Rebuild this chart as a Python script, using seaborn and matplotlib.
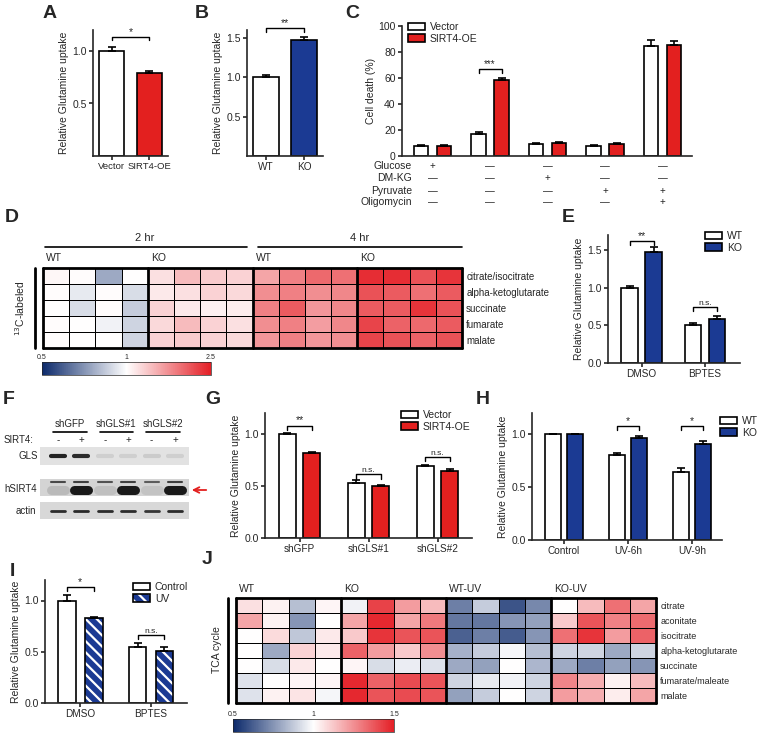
import numpy as np
import pandas as pd
import seaborn as sns
import matplotlib.pyplot as plt
import matplotlib.transforms as mtransforms
from matplotlib.patches import Patch, Rectangle
from matplotlib.colors import LinearSegmentedColormap, TwoSlopeNorm, Normalize
from matplotlib.ticker import FormatStrFormatter

# ---------------- data ----------------
# A
a_cats = ['Vector', 'SIRT4-OE']
a_vals = [1.0, 0.79]
a_errs = [0.04, 0.015]
# B
b_cats = ['WT', 'KO']
b_vals = [1.0, 1.47]
b_errs = [0.03, 0.04]
# C
c_groups = ['Vector', 'SIRT4-OE']
c_cats = ['c1', 'c2', 'c3', 'c4', 'c5']
c_vector = [8.0, 17.0, 9.5, 8.0, 85.0]
c_sirt4 = [7.5, 58.5, 10.0, 9.5, 85.5]
c_vector_err = [0.5, 1.2, 0.6, 0.4, 4.0]
c_sirt4_err = [1.0, 1.2, 1.0, 0.8, 3.0]
c_rows = ['Glucose', 'DM-KG', 'Pyruvate', 'Oligomycin']
c_signs = [['+', '—', '—', '—', '—'],
           ['—', '—', '+', '—', '—'],
           ['—', '—', '—', '+', '+'],
           ['—', '—', '—', '—', '+']]
# D
d_rows = ['citrate/isocitrate', 'alpha-ketoglutarate', 'succinate', 'fumarate', 'malate']
d_wt_2hr = [[1.05, 1.02, 0.80, 1.00],
            [1.02, 0.95, 1.02, 0.92],
            [1.00, 0.92, 1.02, 0.88],
            [1.02, 1.00, 0.97, 0.90],
            [1.02, 1.00, 1.00, 0.90]]
d_ko_2hr = [[1.20, 1.45, 1.35, 1.30],
            [1.15, 1.20, 1.30, 1.25],
            [1.30, 1.15, 1.10, 1.12],
            [1.25, 1.45, 1.30, 1.20],
            [1.30, 1.35, 1.30, 1.25]]
d_wt_4hr = [[1.60, 1.85, 2.00, 1.95],
            [1.75, 1.85, 1.75, 1.80],
            [1.85, 2.10, 1.70, 1.80],
            [1.75, 1.85, 1.65, 1.80],
            [1.70, 1.85, 1.70, 1.75]]
d_ko_4hr = [[2.40, 2.40, 2.15, 2.35],
            [2.15, 2.10, 1.95, 2.10],
            [2.10, 2.10, 2.35, 2.15],
            [2.25, 2.05, 2.00, 2.10],
            [2.25, 2.15, 2.05, 2.15]]
d_groups = ['WT', 'KO', 'WT', 'KO']
# E
e_cats = ['DMSO', 'BPTES']
e_wt = [1.0, 0.51]
e_ko = [1.47, 0.59]
e_wt_err = [0.02, 0.02]
e_ko_err = [0.07, 0.04]
# F (band intensities per lane)
f_headers = ['shGFP', 'shGLS#1', 'shGLS#2']
f_sirt4 = ['-', '+', '-', '+', '-', '+']
gls_band = [0.95, 0.9, 0.04, 0.04, 0.06, 0.04]
sirt4_upper = [0.75, 0.8, 0.7, 0.8, 0.65, 0.8]
sirt4_band = [0.15, 1.0, 0.12, 1.0, 0.1, 1.0]
actin_band = [0.9, 0.92, 0.9, 0.9, 0.85, 0.9]
# G
g_cats = ['shGFP', 'shGLS#1', 'shGLS#2']
g_vector = [1.0, 0.53, 0.69]
g_sirt4 = [0.815, 0.50, 0.64]
g_vector_err = [0.01, 0.03, 0.008]
g_sirt4_err = [0.012, 0.005, 0.02]
# H
h_cats = ['Control', 'UV-6h', 'UV-9h']
h_wt = [1.0, 0.80, 0.64]
h_ko = [1.0, 0.96, 0.91]
h_wt_err = [0.005, 0.025, 0.045]
h_ko_err = [0.005, 0.02, 0.03]
# I
i_cats = ['DMSO', 'BPTES']
i_ctrl = [1.0, 0.55]
i_uv = [0.83, 0.51]
i_ctrl_err = [0.05, 0.04]
i_uv_err = [0.008, 0.04]
# J
j_rows = ['citrate', 'aconitate', 'isocitrate', 'alpha-ketoglutarate', 'succinate',
          'fumarate/maleate', 'malate']
j_wt = [[1.07, 1.03, 0.85, 1.02],
        [1.20, 1.03, 0.75, 1.00],
        [1.00, 1.08, 0.87, 1.05],
        [1.00, 0.80, 1.10, 1.05],
        [1.00, 0.92, 1.05, 1.00],
        [0.93, 1.00, 1.02, 1.02],
        [0.93, 1.03, 1.06, 0.98]]
j_ko = [[0.97, 1.42, 1.22, 1.15],
        [1.20, 1.48, 1.20, 1.30],
        [1.12, 1.45, 1.38, 1.38],
        [1.35, 1.22, 1.12, 1.25],
        [1.02, 0.92, 0.96, 0.93],
        [1.48, 1.35, 1.40, 1.38],
        [1.48, 1.38, 1.40, 1.38]]
j_wt_uv = [[0.70, 0.88, 0.60, 0.72],
           [0.68, 0.68, 0.75, 0.78],
           [0.63, 0.70, 0.62, 0.75],
           [0.82, 0.88, 0.98, 0.85],
           [0.80, 0.78, 1.00, 0.83],
           [0.90, 0.95, 0.97, 0.90],
           [0.78, 0.88, 1.00, 0.90]]
j_ko_uv = [[1.00, 1.15, 1.32, 1.20],
           [1.12, 1.38, 1.28, 1.33],
           [1.32, 1.45, 1.22, 1.35],
           [0.90, 0.90, 0.80, 0.90],
           [0.80, 0.70, 0.78, 0.75],
           [1.27, 1.18, 1.03, 1.15],
           [1.22, 1.18, 1.04, 1.20]]
j_groups = ['WT', 'KO', 'WT-UV', 'KO-UV']

# ---------------- style ----------------
sns.set_style('ticks')
plt.rcParams['font.family'] = ['Liberation Sans', 'DejaVu Sans']
plt.rcParams['hatch.linewidth'] = 1.6
plt.rcParams['axes.linewidth'] = 1.2

RED = '#e3201f'
BLUE = '#1b3a93'
heat_cmap = LinearSegmentedColormap.from_list('bwr_pub', ['#0c2a6b', '#ffffff', '#e41f26'])

W, H = 764, 736
fig = plt.figure(figsize=(W / 100, H / 100), dpi=100)


def box(l, t, r, b):
    return [l / W, 1 - b / H, (r - l) / W, (b - t) / H]


def fx(x):
    return x / W


def fy(y):
    return 1 - y / H


def letter(x, y, s):
    fig.text(fx(x), fy(y), s, fontsize=14, fontweight='bold', ha='center', va='center')


def style(ax, ylim, yticks, fmt='%.1f'):
    ax.set_ylim(*ylim)
    ax.set_yticks(yticks)
    ax.yaxis.set_major_formatter(FormatStrFormatter(fmt))
    sns.despine(ax=ax)
    ax.tick_params(direction='out', length=3, width=1.2, labelsize=7.5, pad=1.5)
    ax.tick_params(axis='x', labelsize=7.2)
    ax.set_xlabel('')


def add_errors(ax, bars, errs):
    xs = np.array([p.get_x() + p.get_width() / 2 for p in bars])
    hs = np.array([p.get_height() for p in bars])
    ax.errorbar(xs, hs, yerr=[np.zeros(len(hs)), np.asarray(errs)], fmt='none',
                ecolor='black', elinewidth=1.2, capsize=3, capthick=1.2)
    return xs


def simple_bars(ax, cats, vals, errs, colors):
    sns.barplot(x=cats, y=vals, hue=cats, palette=colors, width=0.66, errorbar=None,
                saturation=1, edgecolor='black', linewidth=1.2, legend=False, ax=ax)
    return add_errors(ax, ax.patches[:len(cats)], errs)


def grouped_bars(ax, cats, groups, values, errors, colors, width, gap):
    df = pd.DataFrame({'cat': np.tile(cats, len(groups)),
                       'grp': np.repeat(groups, len(cats)),
                       'val': np.concatenate(values)})
    sns.barplot(data=df, x='cat', y='val', hue='grp', order=cats, hue_order=groups,
                palette=dict(zip(groups, colors)), width=width, gap=gap, errorbar=None,
                saturation=1, edgecolor='black', linewidth=1.2, legend=False, ax=ax)
    bars = ax.patches[:len(df)]
    xs = add_errors(ax, bars, np.concatenate(errors))
    return xs.reshape(len(groups), len(cats)), bars


def bracket(ax, x1, x2, y, h, text, size=7.5):
    ax.plot([x1, x1, x2, x2], [y - h, y, y, y - h], color='black', lw=1, clip_on=False)
    ax.text((x1 + x2) / 2, y, text, ha='center', va='bottom', fontsize=size)


def legend(ax, handles, labels, x, y):
    ax.legend(handles, labels, loc='upper left', bbox_to_anchor=(fx(x), fy(y)),
              bbox_transform=fig.transFigure, frameon=False, fontsize=7.5,
              handlelength=1.6, handleheight=0.75, labelspacing=0.15,
              handletextpad=0.5, borderpad=0, borderaxespad=0)


def patch(c):
    return Patch(facecolor=c, edgecolor='black', lw=1.2)


# ---------------- A ----------------
axA = fig.add_axes(box(93, 30, 168, 156))
xa = simple_bars(axA, a_cats, a_vals, a_errs, ['white', RED])
style(axA, (0, 1.2), [0, 0.5, 1.0])
axA.set_yticks([0.5, 1.0])
axA.tick_params(axis='x', labelsize=6.8)
axA.set_xlim(-0.5, 1.5)
axA.set_ylabel('Relative Glutamine uptake', fontsize=7.5, labelpad=2)
bracket(axA, xa[0], xa[1], 1.13, 0.03, '*')
letter(50, 13, 'A')

# ---------------- B ----------------
axB = fig.add_axes(box(247, 30, 323, 156))
xb = simple_bars(axB, b_cats, b_vals, b_errs, ['white', BLUE])
style(axB, (0, 1.6), [0, 0.5, 1.0, 1.5])
axB.set_yticks([0.5, 1.0, 1.5])
axB.set_xlim(-0.5, 1.5)
axB.set_ylabel('Relative Glutamine uptake', fontsize=7.5, labelpad=2)
bracket(axB, xb[0], xb[1], 1.63, 0.05, '**')
letter(202, 13, 'B')

# ---------------- C ----------------
axC = fig.add_axes(box(402, 26, 692, 156))
xc, _ = grouped_bars(axC, c_cats, c_groups, [c_vector, c_sirt4], [c_vector_err, c_sirt4_err],
                     ['white', RED], 0.8, 0.375)
style(axC, (0, 100), [0, 20, 40, 60, 80, 100], '%d')
axC.set_xticks([])
axC.set_xlim(-0.53, 4.51)
axC.set_ylabel('Cell death (%)', fontsize=7.5, labelpad=2)
bracket(axC, xc[0][1], xc[1][1], 67, 3, '***', 7)
legend(axC, [patch('white'), patch(RED)], c_groups, 408, 22)
tf_c = mtransforms.blended_transform_factory(axC.transData, fig.transFigure)
for row, ypx, signs in zip(c_rows, [166, 178, 191, 202], c_signs):
    fig.text(fx(412), fy(ypx), row, ha='right', va='center', fontsize=7.5)
    for i, s in enumerate(signs):
        axC.text(i, fy(ypx), s, transform=tf_c, ha='center', va='center', fontsize=7)
letter(352, 13, 'C')

# ---------------- heatmap helper ----------------
def heat(ax, cax, blocks, rows, norm, ticks, ticklabels, groups, row_size, lab_dy):
    data = np.hstack([np.array(b) for b in blocks])
    df = pd.DataFrame(data, index=rows)
    sns.heatmap(df, ax=ax, cmap=heat_cmap, norm=norm, cbar=False, linewidths=0.7,
                linecolor='black', xticklabels=False, yticklabels=rows)
    ax.yaxis.tick_right()
    ax.tick_params(axis='y', length=0, rotation=0, labelsize=row_size, pad=3)
    n = data.shape[0]
    for x in [0, 4, 8, 12, 16]:
        ax.axvline(x, color='black', lw=2, clip_on=False)
    ax.axhline(0, color='black', lw=2, clip_on=False)
    ax.axhline(n, color='black', lw=2, clip_on=False)
    for k, g in enumerate(groups):
        ax.text(4 * k + 0.12, lab_dy, g, ha='left', va='bottom', fontsize=7.5)
    ax.plot([-0.3, -0.3], [0, n], color='black', lw=2, clip_on=False)
    cb = fig.colorbar(ax.collections[0], cax=cax, orientation='horizontal', ticks=ticks)
    cb.ax.xaxis.set_ticks_position('top')
    cb.ax.tick_params(length=0, labelsize=5, pad=1)
    cb.set_ticklabels(ticklabels)
    cb.outline.set_linewidth(0.5)


# ---------------- D ----------------
axD = fig.add_axes(box(43, 268, 462, 348))
caxD = fig.add_axes(box(42, 362, 211, 375))
heat(axD, caxD, [d_wt_2hr, d_ko_2hr, d_wt_4hr, d_ko_4hr], d_rows,
     TwoSlopeNorm(vmin=0.5, vcenter=1.0, vmax=2.5), [0.5, 1.0, 2.5], ['0.5', '1', '2.5'],
     d_groups, 7, -0.3)
axD.plot([0.08, 7.8], [-1.31, -1.31], color='black', lw=1.2, clip_on=False)
axD.plot([8.2, 16], [-1.31, -1.31], color='black', lw=1.2, clip_on=False)
axD.text(3.9, -1.85, '2 hr', ha='center', va='center', fontsize=8)
axD.text(12.1, -1.85, '4 hr', ha='center', va='center', fontsize=8)
fig.text(fx(20), fy(308), r'$^{13}$C-labeled', rotation=90, ha='center', va='center', fontsize=7.5)
letter(12, 218, 'D')

# ---------------- E ----------------
axE = fig.add_axes(box(608, 235, 740, 363))
xe, _ = grouped_bars(axE, e_cats, ['WT', 'KO'], [e_wt, e_ko], [e_wt_err, e_ko_err],
                     ['white', BLUE], 0.76, 0.32)
style(axE, (0, 1.7), [0, 0.5, 1.0, 1.5])
axE.set_xlim(-0.53, 1.55)
axE.set_ylabel('Relative Glutamine uptake', fontsize=7.5, labelpad=2)
bracket(axE, xe[0][0], xe[1][0], 1.62, 0.05, '**')
bracket(axE, xe[0][1], xe[1][1], 0.74, 0.05, 'n.s.', 6)
legend(axE, [patch('white'), patch(BLUE)], ['WT', 'KO'], 705, 231)
letter(568, 218, 'E')

# ---------------- F ----------------
def blot(ax, bg, bands):
    ax.set_facecolor(bg)
    for band, y, lw in bands:
        for lane, v in enumerate(band):
            g = 0.84 - 0.74 * v
            ax.plot([lane - 0.3, lane + 0.3], [y, y], color=str(g), lw=lw,
                    solid_capstyle='round')
    ax.set_xlim(-0.77, 5.6)
    ax.set_ylim(0, 1)
    ax.set_xticks([])
    ax.set_yticks([])
    for s in ax.spines.values():
        s.set_visible(False)


axF1 = fig.add_axes(box(40, 447, 189, 465))
axF2 = fig.add_axes(box(40, 479, 189, 496))
axF3 = fig.add_axes(box(40, 502, 189, 519))
blot(axF1, '#e2e2e2', [(gls_band, 0.5, 3.0)])
blot(axF2, '#d4d4d4', [(sirt4_upper, 0.85, 1.5), (sirt4_band, 0.38, 6.5)])
blot(axF3, '#d8d8d8', [(actin_band, 0.5, 2.0)])
tf_f = mtransforms.blended_transform_factory(axF1.transData, fig.transFigure)
for c, name in zip([0.5, 2.5, 4.5], f_headers):
    axF1.text(c, fy(424), name, transform=tf_f, ha='center', va='center', fontsize=7)
    axF1.plot([c - 0.72, c + 0.72], [fy(432), fy(432)], transform=tf_f, color='black',
              lw=1.2, clip_on=False)
for lane, s in enumerate(f_sirt4):
    axF1.text(lane, fy(440), s, transform=tf_f, ha='center', va='center', fontsize=7)
axF1.set_xlim(-0.77, 5.6)
fig.text(fx(33), fy(440), 'SIRT4:', ha='right', va='center', fontsize=7)
fig.text(fx(38), fy(456), 'GLS', ha='right', va='center', fontsize=7)
fig.text(fx(37), fy(489), 'hSIRT4', ha='right', va='center', fontsize=7)
fig.text(fx(36), fy(511), 'actin', ha='right', va='center', fontsize=7)
axF2.annotate('', xy=(fx(189), fy(490)), xytext=(fx(209), fy(490)),
              xycoords='figure fraction', textcoords='figure fraction',
              arrowprops=dict(arrowstyle='->', color=RED, lw=1.3))
letter(9, 400, 'F')

# ---------------- G ----------------
axG = fig.add_axes(box(265, 413, 472, 538))
xg, _ = grouped_bars(axG, g_cats, ['Vector', 'SIRT4-OE'], [g_vector, g_sirt4],
                     [g_vector_err, g_sirt4_err], ['white', RED], 0.72, 0.31)
style(axG, (0, 1.2), [0, 0.5, 1.0])
axG.set_xlim(-0.5, 2.5)
axG.set_ylabel('Relative Glutamine uptake', fontsize=7.5, labelpad=2)
bracket(axG, xg[0][0], xg[1][0], 1.08, 0.04, '**')
bracket(axG, xg[0][1], xg[1][1], 0.61, 0.04, 'n.s.', 6)
bracket(axG, xg[0][2], xg[1][2], 0.78, 0.04, 'n.s.', 6)
legend(axG, [patch('white'), patch(RED)], ['Vector', 'SIRT4-OE'], 401, 410)
letter(213, 400, 'G')

# ---------------- H ----------------
axH = fig.add_axes(box(532, 413, 722, 540))
xh, _ = grouped_bars(axH, h_cats, ['WT', 'KO'], [h_wt, h_ko], [h_wt_err, h_ko_err],
                     ['white', BLUE], 0.7, 0.29)
style(axH, (0, 1.2), [0, 0.5, 1.0])
axH.set_xlim(-0.5, 2.47)
axH.set_ylabel('Relative Glutamine uptake', fontsize=7.5, labelpad=2)
bracket(axH, xh[0][1], xh[1][1], 1.08, 0.04, '*')
bracket(axH, xh[0][2], xh[1][2], 1.08, 0.04, '*')
legend(axH, [patch('white'), patch(BLUE)], ['WT', 'KO'], 720, 416)
letter(483, 400, 'H')

# ---------------- I ----------------
axI = fig.add_axes(box(45, 580, 187, 703))
xi, bars_i = grouped_bars(axI, i_cats, ['Control', 'UV'], [i_ctrl, i_uv],
                          [i_ctrl_err, i_uv_err], ['white', BLUE], 0.76, 0.34)
for p in bars_i[len(i_cats):]:
    p.set_hatch('\\\\\\')
    p.set_edgecolor('white')
    p.set_linewidth(0)
    axI.add_patch(Rectangle(p.get_xy(), p.get_width(), p.get_height(), fill=False,
                            edgecolor='black', lw=1.2, zorder=p.get_zorder() + 0.1))
style(axI, (0, 1.2), [0, 0.5, 1.0])
axI.set_xlim(-0.5, 1.51)
axI.set_ylabel('Relative Glutamine uptake', fontsize=7.5, labelpad=2)
bracket(axI, xi[0][0], xi[1][0], 1.13, 0.04, '*')
bracket(axI, xi[0][1], xi[1][1], 0.66, 0.04, 'n.s.', 6)
uv_handle = (Patch(facecolor=BLUE, edgecolor='white', hatch='\\\\\\', lw=0),
             Patch(fill=False, edgecolor='black', lw=1.2))
legend(axI, [patch('white'), uv_handle], ['Control', 'UV'], 133, 582)
letter(12, 572, 'I')

# ---------------- J ----------------
axJ = fig.add_axes(box(236, 598, 656, 703))
caxJ = fig.add_axes(box(233, 719, 394, 732))
heat(axJ, caxJ, [j_wt, j_ko, j_wt_uv, j_ko_uv], j_rows,
     Normalize(vmin=0.5, vmax=1.5), [0.5, 1.0, 1.5], ['0.5', '1', '1.5'],
     j_groups, 6.5, -0.25)
fig.text(fx(217), fy(650), 'TCA cycle', rotation=90, ha='center', va='center', fontsize=7.5)
letter(207, 560, 'J')

fig.savefig('out.png', dpi=100)
